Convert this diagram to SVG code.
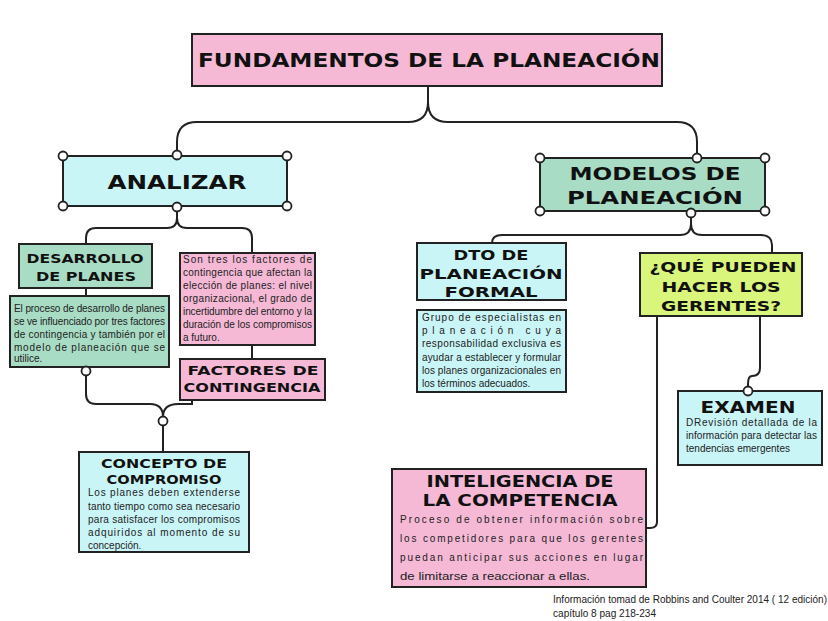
<svg xmlns="http://www.w3.org/2000/svg" width="828" height="621" viewBox="0 0 828 621">
<style>
.b{stroke:#222;stroke-width:2}
.cy{fill:#c9f5f7}.gr{fill:#a9dcc5}.pk{fill:#f5b9d6}.li{fill:#d9f57c}
.h{font-family:"DejaVu Sans",sans-serif;font-weight:bold;fill:#111;text-anchor:middle}
.t{font-family:"Liberation Sans",Arial,sans-serif;font-size:10px;fill:#222}
.c{fill:none;stroke:#222;stroke-width:2}
.d{fill:#fff;stroke:#222;stroke-width:1.8}
</style>
<rect width="828" height="621" fill="#fff"/>
<g id="connectors">
<path class="c" d="M428,86 V102 Q428,122 408,122 H197 Q177,122 177,142 V155"/>
<path class="c" d="M428,102 Q428,122 448,122 H677 Q697,122 697,142 V158"/>
<path class="c" d="M177,207 V218 Q177,228 167,228 H96 Q86,228 86,238 V244"/>
<path class="c" d="M177,218 Q177,228 187,228 H242 Q252,228 252,238 V253"/>
<path class="c" d="M86,288 V296"/>
<path class="c" d="M252,345 V359"/>
<path class="c" d="M86,371 V394 Q86,404 96,404 H150 Q163,404 163,417"/>
<path class="c" d="M192,400 V404 H178 Q163,404 163,417"/>
<path class="c" d="M163,425 V452"/>
<path class="c" d="M691,213 V224 Q691,235 680,235 H502 Q492,235 492,243"/>
<path class="c" d="M691,224 Q691,235 702,235 H760 Q772,235 772,245 V253"/>
<path class="c" d="M760,316 V368 Q760,376 752,376 Q748,376 748,384 V391"/>
<path class="c" d="M657,316 V522 Q657,528 650,528 H646"/>
<circle class="d" cx="163" cy="421" r="4.5"/>
</g>
<g id="title">
<rect class="b pk" x="192" y="34" width="470" height="52"/>
<text class="h" x="429" y="67" font-size="19" textLength="462" lengthAdjust="spacingAndGlyphs">FUNDAMENTOS DE LA PLANEACIÓN</text>
</g>
<g id="analizar">
<rect class="b cy" x="63" y="156" width="224" height="50"/>
<text class="h" x="177" y="189" font-size="19" textLength="139" lengthAdjust="spacingAndGlyphs">ANALIZAR</text>
<circle class="d" cx="63" cy="156" r="4.5"/><circle class="d" cx="287" cy="156" r="4.5"/>
<circle class="d" cx="63" cy="206" r="4.5"/><circle class="d" cx="287" cy="206" r="4.5"/>
<circle class="d" cx="177" cy="155" r="4.5"/><circle class="d" cx="177" cy="207" r="4.5"/>
</g>
<g id="desarrollo">
<rect class="b gr" x="19" y="244" width="133" height="44"/>
<text class="h" x="85" y="263" font-size="13" textLength="117" lengthAdjust="spacingAndGlyphs">DESARROLLO</text>
<text class="h" x="86" y="281" font-size="13" textLength="100" lengthAdjust="spacingAndGlyphs">DE PLANES</text>
</g>
<g id="desarrollo-texto">
<rect class="b gr" x="10" y="296" width="159" height="71"/>
<text class="t" x="14" y="312" textLength="151" lengthAdjust="spacing">El proceso de desarrollo de planes</text>
<text class="t" x="14" y="325" textLength="151" lengthAdjust="spacing">se ve influenciado por tres factores</text>
<text class="t" x="14" y="338" textLength="151" lengthAdjust="spacing">de contingencia y también por el</text>
<text class="t" x="14" y="351" textLength="151" lengthAdjust="spacing">modelo de planeación que se</text>
<text class="t" x="14" y="362">utilice.</text>
<circle class="d" cx="86" cy="371" r="4.5"/>
</g>
<g id="factores-texto">
<rect class="b pk" x="180" y="253" width="135" height="92"/>
<text class="t" x="183" y="263" textLength="129" lengthAdjust="spacing">Son tres los factores de</text>
<text class="t" x="183" y="276" textLength="129" lengthAdjust="spacing">contingencia que afectan la</text>
<text class="t" x="183" y="289" textLength="129" lengthAdjust="spacing">elección de planes: el nivel</text>
<text class="t" x="183" y="302" textLength="129" lengthAdjust="spacing">organizacional, el grado de</text>
<text class="t" x="183" y="315" textLength="129" lengthAdjust="spacing">incertidumbre del entorno y la</text>
<text class="t" x="183" y="328" textLength="129" lengthAdjust="spacing">duración de los compromisos</text>
<text class="t" x="183" y="341">a futuro.</text>
</g>
<g id="factores">
<rect class="b pk" x="180" y="359" width="145" height="41"/>
<text class="h" x="253" y="375" font-size="13" textLength="131" lengthAdjust="spacingAndGlyphs">FACTORES DE</text>
<text class="h" x="252" y="392" font-size="13" textLength="137" lengthAdjust="spacingAndGlyphs">CONTINGENCIA</text>
</g>
<g id="concepto">
<rect class="b cy" x="79" y="452" width="170" height="100"/>
<text class="h" x="164" y="468" font-size="12" textLength="126" lengthAdjust="spacingAndGlyphs">CONCEPTO DE</text>
<text class="h" x="164" y="484" font-size="12" textLength="115" lengthAdjust="spacingAndGlyphs">COMPROMISO</text>
<text class="t" x="88" y="496" textLength="152" lengthAdjust="spacing">Los planes deben extenderse</text>
<text class="t" x="88" y="510" textLength="152" lengthAdjust="spacing">tanto tiempo como sea necesario</text>
<text class="t" x="88" y="523" textLength="152" lengthAdjust="spacing">para satisfacer los compromisos</text>
<text class="t" x="88" y="536" textLength="152" lengthAdjust="spacing">adquiridos al momento de su</text>
<text class="t" x="88" y="549">concepción.</text>
</g>
<g id="modelos">
<rect class="b gr" x="540" y="158" width="225" height="53"/>
<text class="h" x="655" y="180" font-size="18" textLength="171" lengthAdjust="spacingAndGlyphs">MODELOS DE</text>
<text class="h" x="655" y="204" font-size="18" textLength="176" lengthAdjust="spacingAndGlyphs">PLANEACIÓN</text>
<circle class="d" cx="540" cy="158" r="4.5"/><circle class="d" cx="765" cy="158" r="4.5"/>
<circle class="d" cx="540" cy="211" r="4.5"/><circle class="d" cx="765" cy="211" r="4.5"/>
<circle class="d" cx="697" cy="158" r="4.5"/><circle class="d" cx="691" cy="213" r="4.5"/>
</g>
<g id="dto">
<rect class="b cy" x="417" y="243" width="149" height="57"/>
<text class="h" x="491" y="260" font-size="14" textLength="75" lengthAdjust="spacingAndGlyphs">DTO DE</text>
<text class="h" x="491" y="279" font-size="14" textLength="143" lengthAdjust="spacingAndGlyphs">PLANEACIÓN</text>
<text class="h" x="491" y="297" font-size="14" textLength="93" lengthAdjust="spacingAndGlyphs">FORMAL</text>
</g>
<g id="dto-texto">
<rect class="b cy" x="417" y="310" width="149" height="82"/>
<text class="t" x="422" y="321" textLength="139" lengthAdjust="spacing">Grupo de especialistas en</text>
<text class="t" x="422" y="334" textLength="139" lengthAdjust="spacing">planeación cuya</text>
<text class="t" x="422" y="347" textLength="139" lengthAdjust="spacing">responsabilidad exclusiva es</text>
<text class="t" x="422" y="361" textLength="139" lengthAdjust="spacing">ayudar a establecer y formular</text>
<text class="t" x="422" y="374" textLength="139" lengthAdjust="spacing">los planes organizacionales en</text>
<text class="t" x="422" y="387">los términos adecuados.</text>
</g>
<g id="gerentes">
<rect class="b li" x="640" y="253" width="162" height="63"/>
<text class="h" x="723" y="272" font-size="14" textLength="147" lengthAdjust="spacingAndGlyphs">¿QUÉ PUEDEN</text>
<text class="h" x="721" y="292" font-size="14" textLength="119" lengthAdjust="spacingAndGlyphs">HACER LOS</text>
<text class="h" x="721" y="311" font-size="14" textLength="120" lengthAdjust="spacingAndGlyphs">GERENTES?</text>
</g>
<g id="examen">
<rect class="b cy" x="678" y="391" width="144" height="74"/>
<text class="h" x="748" y="413" font-size="15" textLength="95" lengthAdjust="spacingAndGlyphs">EXAMEN</text>
<text class="t" x="686" y="426" textLength="131" lengthAdjust="spacing">DRevisión detallada de la</text>
<text class="t" x="686" y="439" textLength="131" lengthAdjust="spacing">información para detectar las</text>
<text class="t" x="686" y="452">tendencias emergentes</text>
<circle class="d" cx="748" cy="391" r="4.5"/>
</g>
<g id="inteligencia">
<rect class="b pk" x="392" y="469" width="254" height="118"/>
<text class="h" x="520" y="487" font-size="16" textLength="187" lengthAdjust="spacingAndGlyphs">INTELIGENCIA DE</text>
<text class="h" x="520" y="506" font-size="16" textLength="195" lengthAdjust="spacingAndGlyphs">LA COMPETENCIA</text>
<text class="t" font-size="12.5" x="400" y="523" textLength="243" lengthAdjust="spacing">Proceso de obtener información sobre</text>
<text class="t" font-size="12.5" x="400" y="542" textLength="243" lengthAdjust="spacing">los competidores para que los gerentes</text>
<text class="t" font-size="12.5" x="400" y="561" textLength="243" lengthAdjust="spacing">puedan anticipar sus acciones en lugar</text>
<text class="t" font-size="12.5" x="400" y="580" textLength="190" lengthAdjust="spacingAndGlyphs">de limitarse a reaccionar a ellas.</text>
</g>
<g id="fuente">
<text class="t" x="553" y="603" font-size="9.5" fill="#333" textLength="274" lengthAdjust="spacingAndGlyphs">Información tomad de Robbins and Coulter 2014 ( 12 edición)</text>
<text class="t" x="553" y="617" font-size="9.5" fill="#333" textLength="103" lengthAdjust="spacingAndGlyphs">capítulo 8 pag 218-234</text>
</g>
</svg>
